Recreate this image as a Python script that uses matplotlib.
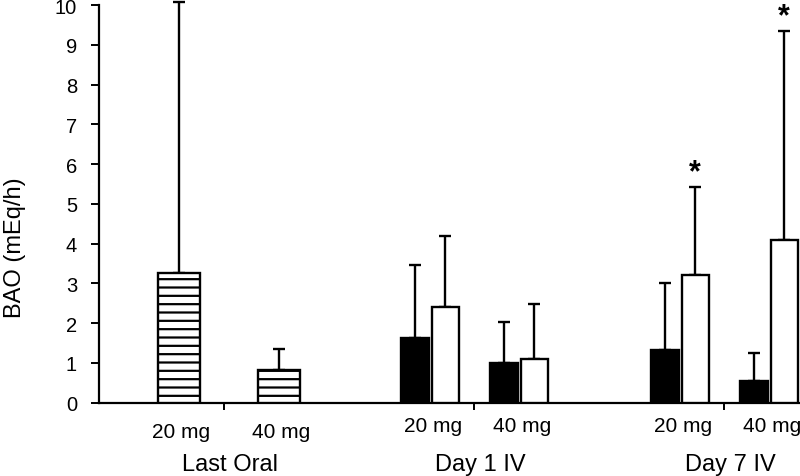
import numpy as np
import matplotlib
matplotlib.use("Agg")
import matplotlib.pyplot as plt

plt.rcParams['font.family'] = ['Liberation Sans', 'DejaVu Sans']
plt.rcParams['hatch.linewidth'] = 1.6

# data (BAO, mEq/h)
groups = ['Last Oral', 'Day 1 IV', 'Day 7 IV']
doses = ['20 mg', '40 mg']
oral_mean = [3.26, 0.82]
oral_top = [10.07, 1.35]
black_mean = {'Day 1 IV': [1.62, 0.99], 'Day 7 IV': [1.32, 0.54]}
black_top = {'Day 1 IV': [3.46, 2.03], 'Day 7 IV': [3.01, 1.25]}
white_mean = {'Day 1 IV': [2.40, 1.09], 'Day 7 IV': [3.21, 4.09]}
white_top = {'Day 1 IV': [4.19, 2.48], 'Day 7 IV': [5.42, 9.35]}
white_star = {'Day 7 IV': [True, True]}

fig = plt.figure(figsize=(8, 4.77), dpi=100)
ax = fig.add_axes([0.124, 0.154, 0.876, 0.833])

centers = 1.25 + 2.5 * np.arange(len(groups))
lw = 1.7
ekw = dict(fmt='none', ecolor='black', elinewidth=lw, capsize=4.5, capthick=lw, clip_on=False)

# last oral: hatched bars
xo = centers[0] + np.array([-0.45, 0.55])
ax.bar(xo, oral_mean, width=0.42, color='white', edgecolor='black', hatch='--', linewidth=lw, zorder=3)
err = np.array(oral_top) - np.array(oral_mean)
ax.errorbar(xo, oral_mean, yerr=[np.zeros(2), err], zorder=2, **ekw)
for x, d in zip(xo, doses):
    ax.text(x + 0.02, -0.074, d, transform=ax.get_xaxis_transform(), ha='center', va='center', fontsize=15)

# IV days: black/white pairs
for i, g in enumerate(groups[1:], start=1):
    xd = centers[i] + np.array([-0.44, 0.45])
    xb = xd - 0.15
    xw = xd + 0.15
    ax.bar(xb, black_mean[g], width=0.28, color='black', edgecolor='black', linewidth=lw, zorder=3)
    ax.bar(xw, white_mean[g], width=0.27, color='white', edgecolor='black', linewidth=lw, zorder=3)
    eb = np.array(black_top[g]) - np.array(black_mean[g])
    ew = np.array(white_top[g]) - np.array(white_mean[g])
    ax.errorbar(xb, black_mean[g], yerr=[np.zeros(2), eb], zorder=2, **ekw)
    ax.errorbar(xw, white_mean[g], yerr=[np.zeros(2), ew], zorder=2, **ekw)
    for k, star in enumerate(white_star.get(g, [False, False])):
        if star:
            ax.annotate('*', xy=(xw[k], white_top[g][k]), xytext=(0, 5), textcoords='offset points',
                        ha='center', va='baseline', fontsize=22, fontweight='bold', annotation_clip=False)
    for x, d in zip(xd, doses):
        ax.text(x + 0.03, -0.057, d, transform=ax.get_xaxis_transform(), ha='center', va='center', fontsize=15)

for c, g in zip(centers, groups):
    ax.text(c + 0.06, -0.155, g, transform=ax.get_xaxis_transform(), ha='center', va='center', fontsize=17)

ax.set_xlim(0, 7.01)
ax.set_ylim(0, 10)
ax.set_yticks(np.arange(0, 11, 1))
ax.set_xticks(centers)
ax.set_xticklabels([])
ax.tick_params(axis='both', direction='out', length=5, width=1.4, labelsize=14.5)
ax.tick_params(axis='y', length=6, pad=10)
ax.spines['top'].set_visible(False)
ax.spines['right'].set_visible(False)
ax.spines['left'].set_linewidth(1.6)
ax.spines['bottom'].set_linewidth(1.6)
ax.set_ylabel('BAO (mEq/h)', fontsize=17)
ax.yaxis.set_label_coords(-0.104, 0.391)

fig.savefig('out.png', dpi=100)
